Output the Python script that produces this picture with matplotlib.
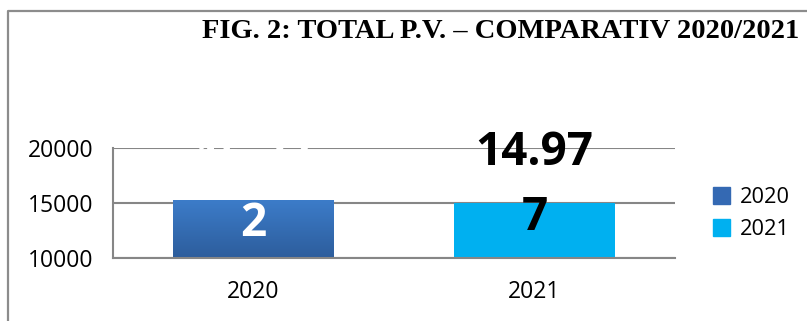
import numpy as np
import matplotlib
matplotlib.use('Agg')
from matplotlib import pyplot as plt
from matplotlib.colors import LinearSegmentedColormap
from matplotlib.patches import Patch
from matplotlib.lines import Line2D

# date: total procese-verbale pe ani
ani = ['2020', '2021']
total_pv = [15272, 14977]
valori_axa_y = [10000, 15000, 20000]
titlu = 'FIG. 2: TOTAL P.V. \u2013 COMPARATIV 2020/2021'

culori = ['#3469b3', '#00b0f0']
culori_eticheta = ['white', 'black']
deplasare_eticheta = [-34, -27]  # puncte, sub capatul barei

plt.rcParams['font.family'] = ['Open Sans', 'DejaVu Sans']

W, H = 807, 321
fig = plt.figure(figsize=(W / 100, H / 100), dpi=100)
ax = fig.add_axes([113 / W, 63 / H, 562 / W, 110 / H])

x = np.arange(len(ani))
bare = ax.bar(x, total_pv, width=0.57, color=culori, zorder=2)
ax.set_xlim(-0.5, 1.5)
ax.set_ylim(valori_axa_y[0], valori_axa_y[-1])

# bara 2020 are un gradient (mai deschis sus)
grad = LinearSegmentedColormap.from_list('albastru', ['#2d5d9c', '#3c7cc9'])
b = bare[0]
img = ax.imshow(np.linspace(0, 1, 256).reshape(-1, 1), cmap=grad, origin='lower',
                aspect='auto', zorder=2.1,
                extent=[b.get_x(), b.get_x() + b.get_width(), valori_axa_y[0], b.get_height()])
img.set_clip_path(b)
ax.set_xlim(-0.5, 1.5)
ax.set_ylim(valori_axa_y[0], valori_axa_y[-1])

# etichete de valoare (rupte pe doua randuri)
for i, v in enumerate(total_pv):
    s = '{:,}'.format(v).replace(',', '.')
    s = s[:-1] + '\n' + s[-1]
    ax.annotate(s, (x[i], v), xytext=(0, deplasare_eticheta[i]), textcoords='offset points',
                ha='center', va='bottom', fontsize=33, fontweight='bold',
                color=culori_eticheta[i], linespacing=1.5, zorder=5,
                annotation_clip=False)

ax.set_yticks(valori_axa_y)
ax.set_xticks(x, ani)
ax.set_axisbelow(True)
ax.yaxis.grid(True, color='#868686', linewidth=1.5)
ax.tick_params(axis='y', length=0, pad=14, labelsize=16.5)
ax.tick_params(axis='x', length=0, pad=16, labelsize=16.5)
for s in ['top', 'right']:
    ax.spines[s].set_visible(False)
for s in ['left', 'bottom']:
    ax.spines[s].set_color('#868686')
    ax.spines[s].set_linewidth(1.5)

handles = [Patch(color=c) for c in culori]
fig.legend(handles, ani, loc='center left', bbox_to_anchor=(713 / W, 1 - 213.5 / H),
           frameon=False, fontsize=15.7, handlelength=0.78, handleheight=0.78,
           handletextpad=0.45, labelspacing=0.5, borderpad=0, borderaxespad=0)

fig.text(799 / W, 1 - 38 / H, titlu, ha='right', va='baseline', fontsize=20.5,
         fontweight='bold', family='Liberation Serif')

# chenarul graficului
fig.add_artist(Line2D([8 / W, 8 / W, 1], [0, 1 - 11 / H, 1 - 11 / H],
                      transform=fig.transFigure, color='#8c8c8c', linewidth=1.6))

fig.savefig('out.png', dpi=100)
